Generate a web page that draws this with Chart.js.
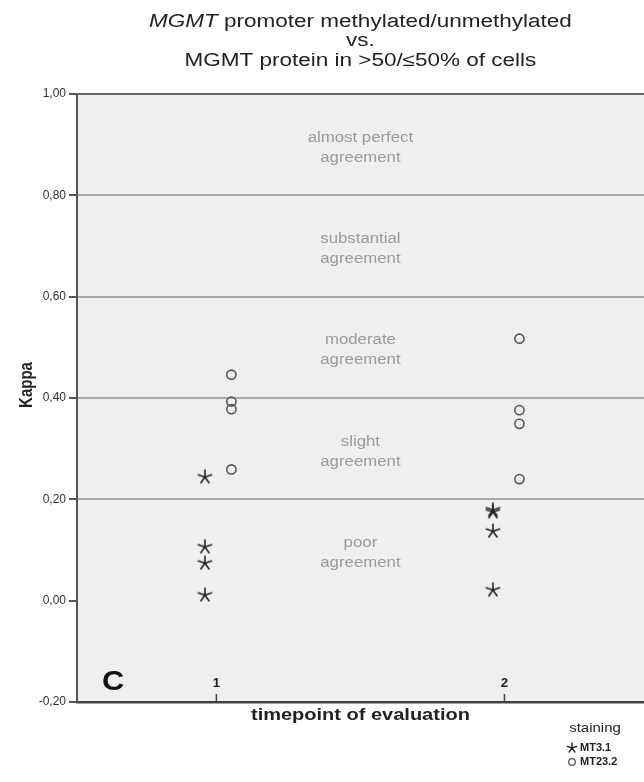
<!DOCTYPE html>
<html>
<head>
<meta charset="utf-8">
<script src="https://cdn.jsdelivr.net/npm/chart.js@4.4.1/dist/chart.umd.min.js"></script>
<style>
  html, body { margin: 0; padding: 0; background: #fff; overflow: hidden; }
  #wrap { width: 653px; height: 782px; position: relative; }
</style>
</head>
<body>
<div id="wrap"><canvas id="myChart"></canvas></div>
<script>
// data
const timepoints = [1, 2];
const mt31_tp1 = [0.245, 0.107, 0.075, 0.012];
const mt31_tp2 = [0.180, 0.176, 0.138, 0.022];
const mt232_tp1 = [0.446, 0.393, 0.378, 0.259];
const mt232_tp2 = [0.517, 0.376, 0.349, 0.240];
const yTicks = [-0.2, 0, 0.2, 0.4, 0.6, 0.8, 1.0];
const bands = [
  { lo: 0.8, hi: 1.0, text: ['almost perfect', 'agreement'] },
  { lo: 0.6, hi: 0.8, text: ['substantial', 'agreement'] },
  { lo: 0.4, hi: 0.6, text: ['moderate', 'agreement'] },
  { lo: 0.2, hi: 0.4, text: ['slight', 'agreement'] },
  { lo: 0.0, hi: 0.2, text: ['poor', 'agreement'] }
];
const seriesNames = ['MT3.1', 'MT23.2'];

const STAR_DX = -0.04;    // dodge of the two stainings around a timepoint
const CIRC_DX = 0.052;
const SX = 1.25;          // the figure's text is drawn wide
const FONT = '"Liberation Sans", Arial, sans-serif';

function toPoints(vals, t, dx) {
  return vals.map(v => ({ x: t + dx, y: v }));
}

function drawStar(ctx, x, y, r, lw, color) {
  ctx.save();
  ctx.strokeStyle = color;
  ctx.lineWidth = lw;
  ctx.lineCap = 'round';
  ctx.beginPath();
  for (let i = 0; i < 5; i++) {
    const a = (-90 + i * 72) * Math.PI / 180;
    ctx.moveTo(x, y);
    ctx.lineTo(x + r * Math.cos(a), y + r * Math.sin(a));
  }
  ctx.stroke();
  ctx.restore();
}

// star image used as pointStyle
const starImg = document.createElement('canvas');
starImg.width = 18; starImg.height = 18;
drawStar(starImg.getContext('2d'), 9, 9.5, 7, 1.6, '#222');

function wideText(ctx, text, x, y, font, color, sx, align) {
  ctx.save();
  ctx.font = font;
  ctx.fillStyle = color;
  ctx.textBaseline = 'middle';
  ctx.textAlign = 'left';
  const w = ctx.measureText(text).width * sx;
  const x0 = align === 'center' ? x - w / 2 : (align === 'right' ? x - w : x);
  ctx.translate(x0, y);
  ctx.scale(sx, 1);
  ctx.fillText(text, 0, 0);
  ctx.restore();
}

const decor = {
  id: 'decor',
  beforeDraw(chart) {
    const { ctx, chartArea: a } = chart;
    ctx.save();
    ctx.fillStyle = '#efefef';
    ctx.fillRect(a.left, a.top, a.right - a.left, a.bottom - a.top);
    ctx.restore();
  },
  afterDraw(chart) {
    const { ctx, chartArea: a } = chart;
    const xs = chart.scales.x, ys = chart.scales.y;
    const cx = xs.getPixelForValue(1.5);

    // title
    const tf = '18px ' + FONT;
    const tfi = 'italic 18px ' + FONT;
    ctx.save();
    ctx.font = tfi;
    const w1 = ctx.measureText('MGMT').width * SX;
    ctx.font = tf;
    const w2 = ctx.measureText(' promoter methylated/unmethylated').width * SX;
    ctx.restore();
    const x1 = cx - (w1 + w2) / 2;
    wideText(ctx, 'MGMT', x1, 22, tfi, '#222', SX, 'left');
    wideText(ctx, ' promoter methylated/unmethylated', x1 + w1, 22, tf, '#222', SX, 'left');
    wideText(ctx, 'vs.', cx, 41, tf, '#222', SX, 'center');
    wideText(ctx, 'MGMT protein in >50/\u226450% of cells', cx, 61, tf, '#222', SX, 'center');

    // agreement bands
    bands.forEach(b => {
      const ym = ys.getPixelForValue((b.lo + b.hi) / 2) + 3;
      wideText(ctx, b.text[0], cx, ym - 10, '14px ' + FONT, '#9a9a9a', 1.2, 'center');
      wideText(ctx, b.text[1], cx, ym + 10, '14px ' + FONT, '#9a9a9a', 1.2, 'center');
    });

    // x ticks drawn inside the plot
    ctx.save();
    ctx.strokeStyle = '#444';
    ctx.lineWidth = 1.5;
    timepoints.forEach(t => {
      const px = xs.getPixelForValue(t);
      ctx.beginPath();
      ctx.moveTo(px, a.bottom);
      ctx.lineTo(px, a.bottom - 8);
      ctx.stroke();
      wideText(ctx, String(t), px, a.bottom - 18, 'bold 12px ' + FONT, '#222', 1.1, 'center');
    });
    ctx.restore();

    // panel letter
    wideText(ctx, 'C', 113, a.bottom - 20, 'bold 28px ' + FONT, '#111', 1.1, 'center');

    // axis titles
    wideText(ctx, 'timepoint of evaluation', cx, 716, 'bold 16px ' + FONT, '#222', SX, 'center');
    ctx.save();
    ctx.translate(27, 385);
    ctx.rotate(-Math.PI / 2);
    ctx.scale(1, SX);
    ctx.font = 'bold 15px ' + FONT;
    ctx.fillStyle = '#222';
    ctx.textAlign = 'center';
    ctx.textBaseline = 'middle';
    ctx.fillText('Kappa', 0, 0);
    ctx.restore();

    // legend
    wideText(ctx, 'staining', 595, 728, '13px ' + FONT, '#222', 1.15, 'center');
    drawStar(ctx, 572, 748, 5, 1.4, '#222');
    wideText(ctx, seriesNames[0], 580, 748, 'bold 10px ' + FONT, '#222', 1.1, 'left');
    ctx.save();
    ctx.strokeStyle = '#555';
    ctx.lineWidth = 1.3;
    ctx.beginPath();
    ctx.arc(572, 762, 3.3, 0, Math.PI * 2);
    ctx.stroke();
    ctx.restore();
    wideText(ctx, seriesNames[1], 580, 762, 'bold 10px ' + FONT, '#222', 1.1, 'left');
  }
};

const ctx = document.getElementById('myChart').getContext('2d');
const chart = new Chart(ctx, {
  type: 'scatter',
  data: {
    datasets: [{
      label: seriesNames[0],
      data: toPoints(mt31_tp1, timepoints[0], STAR_DX).concat(toPoints(mt31_tp2, timepoints[1], STAR_DX)),
      pointStyle: starImg,
      pointRadius: 7
    }, {
      label: seriesNames[1],
      data: toPoints(mt232_tp1, timepoints[0], CIRC_DX).concat(toPoints(mt232_tp2, timepoints[1], CIRC_DX)),
      pointStyle: 'circle',
      pointRadius: 4.6,
      borderWidth: 1.6,
      borderColor: '#555',
      backgroundColor: 'rgba(0,0,0,0)'
    }]
  },
  options: {
    responsive: true,
    maintainAspectRatio: false,
    animation: false,
    layout: { padding: { top: 94, left: 0, right: 0, bottom: 0 } },
    plugins: { legend: { display: false }, tooltip: { enabled: false } },
    scales: {
      x: {
        type: 'linear',
        min: 0.516,
        max: 2.488,
        grid: { display: false },
        border: { display: true, color: '#444', width: 2.5 },
        ticks: { display: false },
        afterFit(s) { s.height = 80; }
      },
      y: {
        min: -0.2,
        max: 1.0,
        afterBuildTicks(s) { s.ticks = yTicks.map(v => ({ value: v })); },
        ticks: {
          padding: 3,
          color: '#333',
          font: { family: FONT, size: 12 },
          callback: v => v.toFixed(2).replace('.', ',')
        },
        grid: {
          drawTicks: true,
          tickLength: 8,
          tickColor: '#555',
          lineWidth: 2,
          color: c => {
            const k = Math.round(c.tick.value * 10);
            if (k === 10) return '#666';
            if (k > 0 && k < 10) return '#a9a9a9';
            return 'rgba(0,0,0,0)';
          }
        },
        border: { display: true, color: '#555', width: 2 },
        afterFit(s) { s.width = 77; }
      }
    }
  },
  plugins: [decor]
});
</script>
</body>
</html>
